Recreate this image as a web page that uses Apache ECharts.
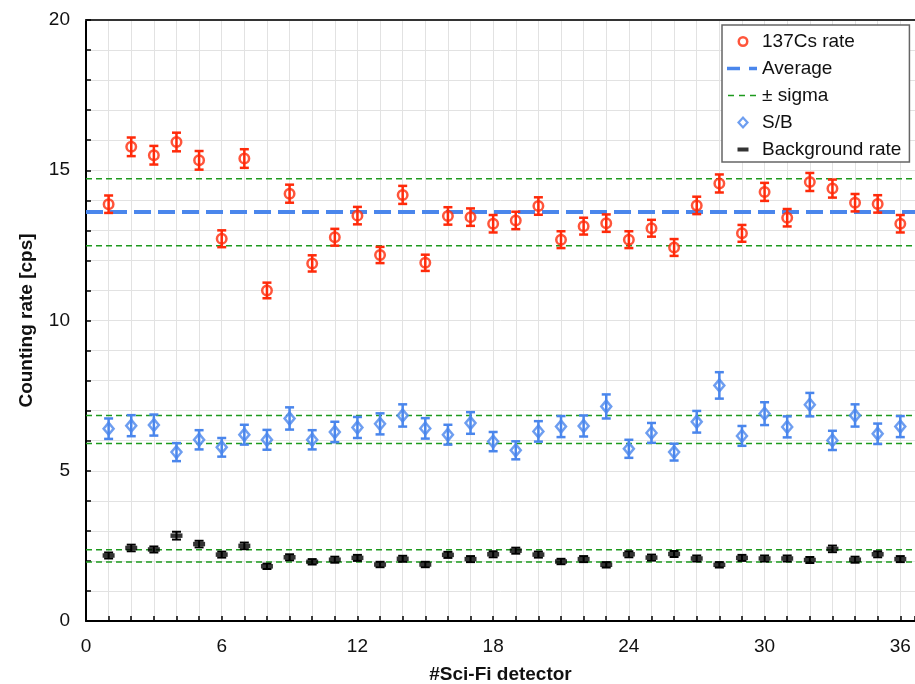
<!DOCTYPE html>
<html>
<head>
<meta charset="utf-8">
<script src="https://cdn.jsdelivr.net/npm/echarts@6/dist/echarts.min.js"></script>
<style>html,body{margin:0;padding:0;background:#fff}#c{width:915px;height:684px}</style>
</head>
<body>
<div id="c"></div>
<script>
const detectors = [1,2,3,4,5,6,7,8,9,10,11,12,13,14,15,16,17,18,19,20,21,22,23,24,25,26,27,28,29,30,31,32,33,34,35,36];
const csRate = [13.87,15.78,15.50,15.94,15.33,12.72,15.39,11.00,14.22,11.90,12.77,13.49,12.18,14.18,11.92,13.48,13.44,13.22,13.33,13.81,12.69,13.14,13.24,12.69,13.07,12.43,13.83,14.56,12.90,14.28,13.42,14.61,14.39,13.92,13.88,13.22];
const csErr = [0.29,0.31,0.31,0.31,0.31,0.28,0.31,0.26,0.30,0.27,0.28,0.29,0.27,0.30,0.27,0.29,0.29,0.29,0.29,0.29,0.28,0.28,0.29,0.28,0.28,0.28,0.29,0.30,0.28,0.30,0.29,0.30,0.30,0.29,0.29,0.29];
const sbRatio = [6.40,6.50,6.52,5.62,6.03,5.78,6.20,6.03,6.74,6.03,6.29,6.44,6.56,6.84,6.41,6.20,6.59,5.97,5.68,6.31,6.47,6.49,7.14,5.73,6.26,5.62,6.63,7.84,6.16,6.90,6.46,7.20,6.01,6.84,6.23,6.47];
const sbErr = [0.34,0.35,0.35,0.30,0.32,0.31,0.33,0.33,0.37,0.32,0.34,0.35,0.35,0.37,0.34,0.33,0.36,0.32,0.30,0.34,0.35,0.35,0.40,0.30,0.33,0.28,0.36,0.44,0.33,0.38,0.35,0.39,0.32,0.37,0.34,0.35];
const bgRate = [2.18,2.43,2.38,2.84,2.56,2.21,2.50,1.82,2.12,1.97,2.04,2.10,1.88,2.07,1.88,2.20,2.06,2.22,2.34,2.21,1.98,2.06,1.87,2.22,2.11,2.23,2.08,1.87,2.10,2.08,2.08,2.03,2.40,2.04,2.22,2.06];
const bgErr = [0.10,0.11,0.10,0.13,0.11,0.10,0.11,0.09,0.10,0.09,0.10,0.10,0.09,0.10,0.09,0.10,0.10,0.10,0.10,0.10,0.09,0.10,0.09,0.10,0.10,0.10,0.10,0.09,0.10,0.10,0.10,0.10,0.11,0.10,0.10,0.10];
const csAverage = 13.61;
const sigmaLevels = [14.72, 12.49, 6.84, 5.91, 2.37, 1.96];
const xTickLabels = [0,6,12,18,24,30,36];
const yTickLabels = [0,5,10,15,20];

const RED = '#ff2a0a', BLUE = '#4a86ec', GREEN = '#1e9a1e', BLACK = '#000';
const FONT = 'Liberation Sans, Arial, sans-serif';
const X_MAX = 36.65;

function errBar(capW, color, lw) {
  return function (params, api) {
    const x = api.value(0), y = api.value(1), e = api.value(2);
    const t = api.coord([x, y + e]), b = api.coord([x, y - e]);
    const st = { stroke: color, lineWidth: lw };
    return { type: 'group', children: [
      { type: 'line', shape: { x1: t[0], y1: t[1], x2: b[0], y2: b[1] }, style: st },
      { type: 'line', shape: { x1: t[0] - capW / 2, y1: t[1], x2: t[0] + capW / 2, y2: t[1] }, style: st },
      { type: 'line', shape: { x1: b[0] - capW / 2, y1: b[1], x2: b[0] + capW / 2, y2: b[1] }, style: st }
    ]};
  };
}
const pts = (vals) => detectors.map((d, i) => [d, vals[i]]);
const errPts = (vals, errs) => detectors.map((d, i) => [d, vals[i], errs[i]]);

const series = [];
sigmaLevels.forEach(v => series.push({
  name: '± sigma', type: 'line', data: [[0, v], [X_MAX, v]], symbol: 'none', silent: true, z: 2,
  lineStyle: { color: GREEN, width: 1.5, type: [6, 4] }, itemStyle: { color: GREEN }
}));
series.push({
  name: 'Average', type: 'line', data: [[0, csAverage], [X_MAX, csAverage]], symbol: 'none', silent: true, z: 3,
  lineStyle: { color: BLUE, width: 4, type: [17, 7] }, itemStyle: { color: BLUE }
});
series.push({ name: '137Cs rate', type: 'scatter', data: pts(csRate), symbol: 'circle', symbolSize: 9.5, z: 5,
  itemStyle: { color: '#fff', borderColor: RED, borderWidth: 2.5 } });
series.push({ name: 'csErr', type: 'custom', data: errPts(csRate, csErr), renderItem: errBar(9, RED, 2.5), z: 6, silent: true });
series.push({ name: 'S/B', type: 'scatter', data: pts(sbRatio), symbol: 'diamond', symbolSize: [10, 12], z: 5,
  itemStyle: { color: '#fff', borderColor: BLUE, borderWidth: 2.5 } });
series.push({ name: 'sbErr', type: 'custom', data: errPts(sbRatio, sbErr), renderItem: errBar(9, BLUE, 2.5), z: 6, silent: true });
series.push({ name: 'Background rate', type: 'scatter', data: pts(bgRate), symbol: 'rect', symbolSize: [12, 4.5], z: 5,
  itemStyle: { color: BLACK } });
series.push({ name: 'bgErr', type: 'custom', data: errPts(bgRate, bgErr), renderItem: errBar(9, BLACK, 2), z: 6, silent: true });

const BOX = 'M0,0M30,14';
const axisCommon = {
  nameTextStyle: { fontSize: 19, fontWeight: 'bold', color: '#111', fontFamily: FONT },
  axisLine: { onZero: false, lineStyle: { color: '#000', width: 2 } },
  axisTick: { inside: true, length: 5, lineStyle: { color: '#000', width: 1.5 } },
  splitLine: { show: true, lineStyle: { color: '#e2e2e2', width: 1 } }
};
const option = {
  animation: false,
  backgroundColor: '#fff',
  textStyle: { fontFamily: FONT },
  grid: { left: 86, top: 20, right: 0, bottom: 63, containLabel: false, outerBoundsMode: 'none' },
  legend: {
    left: 722, top: 25, orient: 'vertical', selectedMode: false,
    backgroundColor: '#fff', borderColor: '#666', borderWidth: 1.5, borderRadius: 0,
    padding: [7, 8, 3, 5], itemWidth: 30, itemHeight: 14, itemGap: 8,
    textStyle: { fontSize: 19, color: '#111', fontFamily: FONT },
    data: [
      { name: '137Cs rate', icon: 'path://' + BOX + 'M10.5,7A5.5,5.5,0,1,1,21.5,7A5.5,5.5,0,1,1,10.5,7ZM13,7A3,3,0,1,0,19,7A3,3,0,1,0,13,7Z', itemStyle: { color: RED, borderWidth: 0 } },
      { name: 'Average', icon: 'path://' + BOX + 'M0,5.3H13V8.7H0ZM22,5.3H30V8.7H22Z', itemStyle: { color: BLUE, borderWidth: 0 } },
      { name: '± sigma', icon: 'path://' + BOX + 'M1,6.2H7V7.8H1ZM12,6.2H18V7.8H12ZM23,6.2H29V7.8H23Z', itemStyle: { color: GREEN, borderWidth: 0 } },
      { name: 'S/B', icon: 'path://' + BOX + 'M16,0.5L22,7L16,13.5L10,7ZM16,3.8L13,7L16,10.2L19,7Z', itemStyle: { color: BLUE, borderWidth: 0 } },
      { name: 'Background rate', icon: 'path://' + BOX + 'M10.5,5H21.5V9H10.5Z', itemStyle: { color: BLACK, borderWidth: 0 } }
    ]
  },
  xAxis: [Object.assign({}, axisCommon, {
    type: 'value', min: 0, max: X_MAX, interval: 1,
    name: '#Sci-Fi detector', nameLocation: 'middle', nameGap: 44,
    axisLabel: { fontSize: 19, color: '#111', margin: 16, fontFamily: FONT,
      formatter: v => xTickLabels.includes(v) ? String(v) : '' }
  }), {
    type: 'value', min: 0, max: X_MAX, position: 'top',
    axisLine: { onZero: false, lineStyle: { color: '#333', width: 2 } },
    axisTick: { show: false }, axisLabel: { show: false }, splitLine: { show: false }
  }],
  yAxis: Object.assign({}, axisCommon, {
    type: 'value', min: 0, max: 20, interval: 1,
    name: 'Counting rate [cps]', nameLocation: 'middle', nameGap: 50,
    axisLabel: { fontSize: 19, color: '#111', margin: 16, fontFamily: FONT, padding: [4, 0, 0, 0],
      formatter: v => yTickLabels.includes(v) ? String(v) : '' }
  }),
  series: series
};
const chart = echarts.init(document.getElementById('c'), null, { renderer: 'canvas' });
chart.setOption(option);
</script>
</body>
</html>
